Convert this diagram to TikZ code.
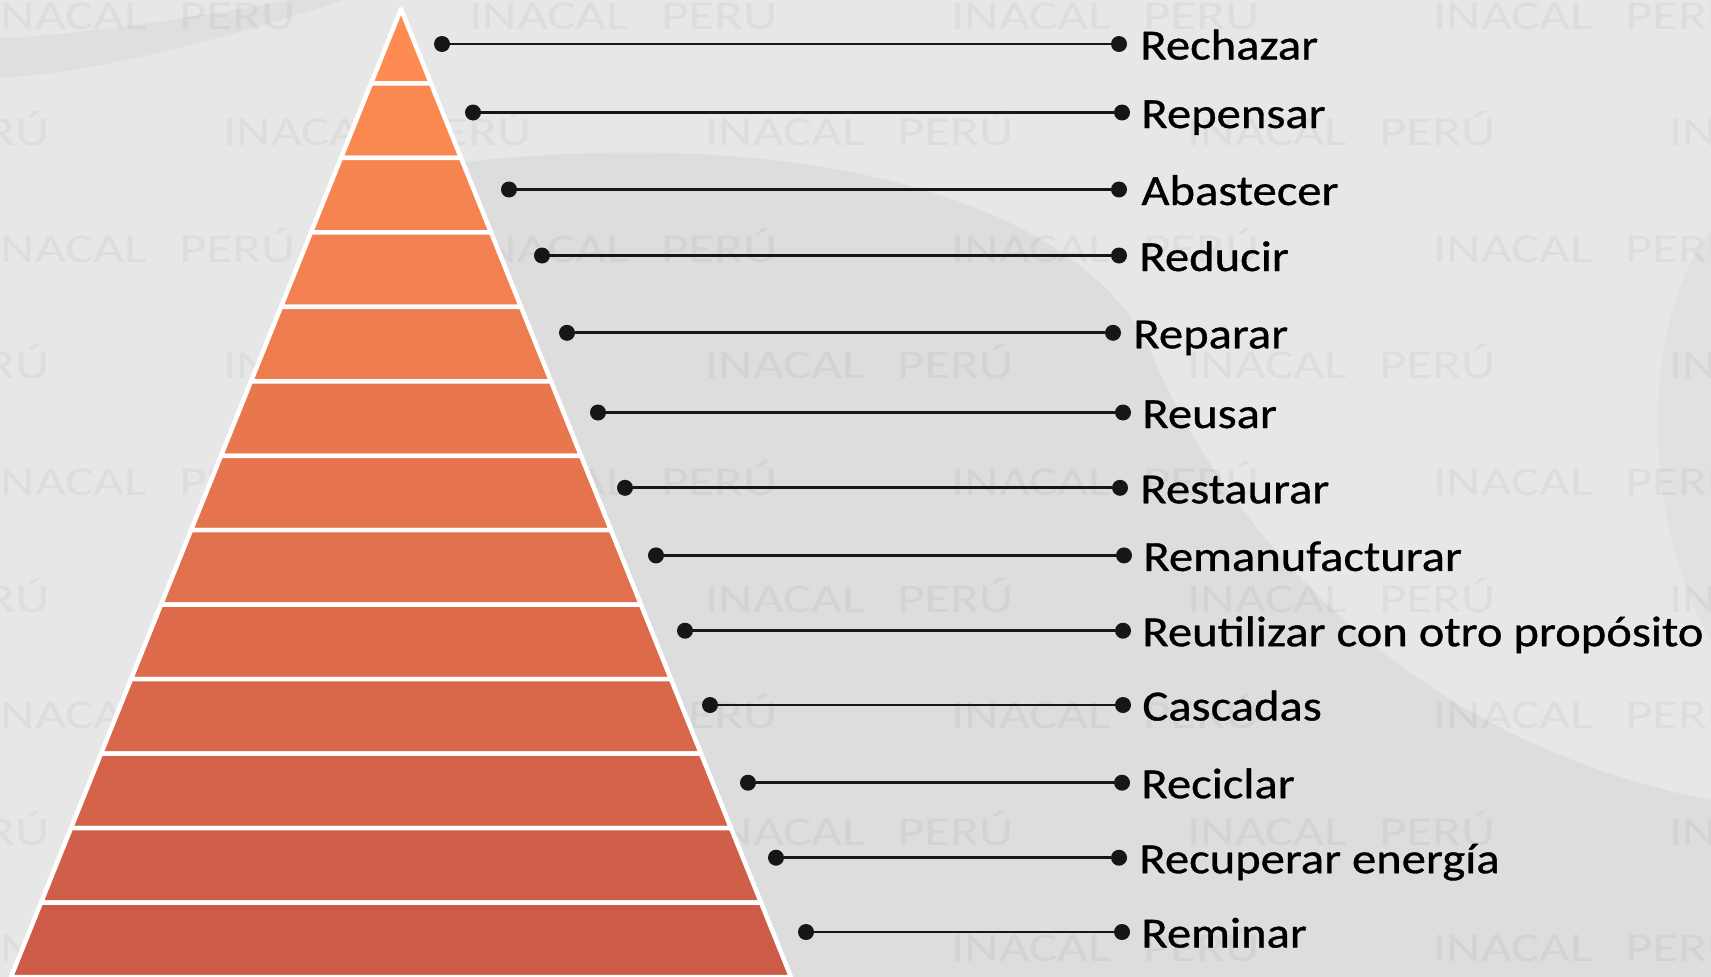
\documentclass[tikz,border=0pt]{standalone}
\usepackage{fontspec}
\setmainfont{Carlito}
\newfontfamily\labelfont[FakeStretch=1.13,FakeBold=0.8]{Carlito}
\newfontfamily\markfont[FakeStretch=1.3]{Carlito}
\usepackage{tikz}
\usetikzlibrary{positioning}
\definecolor{peak}{RGB}{254,140,82}
\definecolor{foot}{RGB}{204,91,72}
\definecolor{bglight}{RGB}{231,231,231}
\definecolor{bgmid}{RGB}{221,221,221}
\definecolor{ink}{RGB}{22,22,22}
\tikzset{lbl/.style={font=\labelfont\fontsize{43}{43}\selectfont,inner sep=0pt,text height=31pt,text depth=0pt,text=black}}
\tikzset{dot/.style={circle,fill=ink,inner sep=0pt,minimum size=16pt}}
\tikzset{lk/.style={draw=ink,line width=2.8pt}}
\tikzset{lay/.style={draw=white,line width=4.5pt}}
\tikzset{wm/.style={font=\markfont\fontsize{41}{41}\selectfont,inner sep=0pt,anchor=base west,text=black,text opacity=0.045}}

\begin{document}
\begin{tikzpicture}[x=1pt,y=-1pt,line join=round]
  \useasboundingbox (0,0) rectangle (1711,977);
  \begin{scope}
    \clip (0,0) rectangle (1711,977);
    \fill[bglight] (0,0) rectangle (1711,977);
    \fill[bgmid] (401,170)--(440,165) .. controls (800,120) and (1080,200) .. (1150,350) .. controls (1220,520) and (1400,740) .. (1711,800)--(1711,977)--(401,977)--cycle;
    \fill[bgmid,opacity=.5] (1711,230) .. controls (1640,320) and (1640,520) .. (1711,640)--cycle;
    \fill[bgmid,opacity=.7] (0,38) .. controls (100,34) and (220,12) .. (290,0)--(345,0) .. controls (250,30) and (120,70) .. (0,78)--cycle;
    \foreach \r in {0,...,8}{
      \pgfmathsetmacro\yy{29+116.6*\r}
      \pgfmathsetmacro\xo{ifthenelse(mod(\r,2)==0,-13,-259)}
      \foreach \c in {0,...,4}
        \node[wm] (wm-\r-\c) at (\xo+482*\c,\yy) {INACAL\hspace{32pt}PERÚ};
    }
  \end{scope}

  \filldraw[lay,fill=foot!0!peak](401,9)--(431,83.46)--(371,83.46)--cycle;
  \filldraw[lay,fill=foot!8!peak](371,83.46)--(431,83.46)--(461,157.92)--(341,157.92)--cycle;
  \filldraw[lay,fill=foot!17!peak](341,157.92)--(461,157.92)--(491,232.38)--(311,232.38)--cycle;
  \filldraw[lay,fill=foot!25!peak](311,232.38)--(491,232.38)--(521,306.85)--(281,306.85)--cycle;
  \filldraw[lay,fill=foot!33!peak](281,306.85)--(521,306.85)--(551,381.31)--(251,381.31)--cycle;
  \filldraw[lay,fill=foot!42!peak](251,381.31)--(551,381.31)--(581,455.77)--(221,455.77)--cycle;
  \filldraw[lay,fill=foot!50!peak](221,455.77)--(581,455.77)--(611,530.23)--(191,530.23)--cycle;
  \filldraw[lay,fill=foot!58!peak](191,530.23)--(611,530.23)--(641,604.69)--(161,604.69)--cycle;
  \filldraw[lay,fill=foot!67!peak](161,604.69)--(641,604.69)--(671,679.15)--(131,679.15)--cycle;
  \filldraw[lay,fill=foot!75!peak](131,679.15)--(671,679.15)--(701,753.62)--(101,753.62)--cycle;
  \filldraw[lay,fill=foot!83!peak](101,753.62)--(701,753.62)--(731,828.08)--(71,828.08)--cycle;
  \filldraw[lay,fill=foot!92!peak](71,828.08)--(731,828.08)--(761,902.54)--(41,902.54)--cycle;
  \filldraw[lay,fill=foot!100!peak](41,902.54)--(761,902.54)--(791,977)--(11,977)--cycle;

  \node[dot] (a1) at (442,44) {};    \node[dot] (b1) at (1119,44) {};    \node[lbl,right=13pt of b1] (t1) {Rechazar};
  \node[dot] (a2) at (473,112.5) {}; \node[dot] (b2) at (1122,112.5) {}; \node[lbl,right=11pt of b2] (t2) {Repensar};
  \node[dot] (a3) at (509,189.5) {}; \node[dot] (b3) at (1119,189.5) {}; \node[lbl,right=14pt of b3] (t3) {Abastecer};
  \node[dot] (a4) at (542,255.5) {}; \node[dot] (b4) at (1119,255.5) {}; \node[lbl,right=12pt of b4] (t4) {Reducir};
  \node[dot] (a5) at (567,332.8) {}; \node[dot] (b5) at (1113,332.8) {}; \node[lbl,right=12pt of b5] (t5) {Reparar};
  \node[dot] (a6) at (598,412.5) {}; \node[dot] (b6) at (1123,412.5) {}; \node[lbl,right=11pt of b6] (t6) {Reusar};
  \node[dot] (a7) at (625,487.8) {}; \node[dot] (b7) at (1120,487.8) {}; \node[lbl,right=12pt of b7] (t7) {Restaurar};
  \node[dot] (a8) at (656,555.4) {}; \node[dot] (b8) at (1124,555.4) {}; \node[lbl,right=11pt of b8] (t8) {Remanufacturar};
  \node[dot] (a9) at (685,630.7) {}; \node[dot] (b9) at (1123,630.7) {}; \node[lbl,right=11pt of b9] (t9) {Reutilizar con otro propósito};
  \node[dot] (a10) at (710,705) {};  \node[dot] (b10) at (1123,705) {};  \node[lbl,right=11pt of b10] (t10) {Cascadas};
  \node[dot] (a11) at (748,782.7) {}; \node[dot] (b11) at (1122,782.7) {}; \node[lbl,right=11pt of b11] (t11) {Reciclar};
  \node[dot] (a12) at (776,857.7) {}; \node[dot] (b12) at (1119,857.7) {}; \node[lbl,right=12pt of b12] (t12) {Recuperar energía};
  \node[dot] (a13) at (806,932) {};  \node[dot] (b13) at (1122,932) {};  \node[lbl,right=11pt of b13] (t13) {Reminar};
  \draw[lk] (a1)--(b1) (a2)--(b2) (a3)--(b3) (a4)--(b4) (a5)--(b5) (a6)--(b6) (a7)--(b7);
  \draw[lk] (a8)--(b8) (a9)--(b9) (a10)--(b10) (a11)--(b11) (a12)--(b12) (a13)--(b13);
\end{tikzpicture}
\end{document}
